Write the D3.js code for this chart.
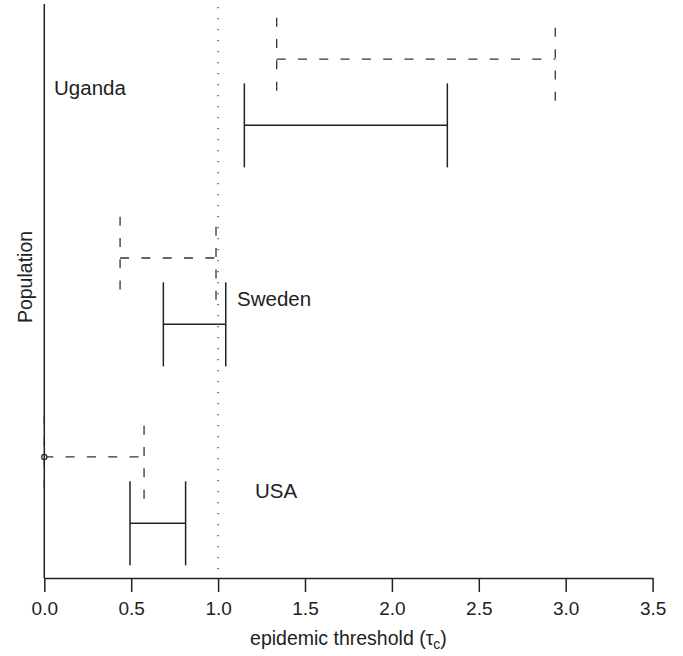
<!DOCTYPE html>
<html>
<head>
<meta charset="utf-8">
<script src="https://cdn.jsdelivr.net/npm/d3@7"></script>
<style>
  body { margin: 0; background: #fff; }
  svg text { font-family: "Liberation Sans", Arial, sans-serif; fill: #222; }
</style>
</head>
<body>
<svg id="chart"></svg>
<script>
// populations, bottom to top
let populations = ['USA', 'Sweden', 'Uganda']
// solid interval (lower, upper) of the epidemic threshold
let solidLow = [0.493, 0.685, 1.151]
let solidHigh = [0.813, 1.044, 2.319]
// dashed interval (lower, upper)
let dashLow = [0.0, 0.436, 1.337]
let dashHigh = [0.574, 0.988, 2.94]
// x ticks
let xTicks = [0, 0.5, 1, 1.5, 2, 2.5, 3, 3.5]
let threshold = 1

let width = 683
let height = 656

let svg = d3.select('#chart')
    .attr('width', width)
    .attr('height', height)

let xScale = d3.scaleLinear()
    .domain([0, 3.5])
    .range([44.3, 652.6])

// each population takes one unit, dashed interval sits a third above the solid one
let yScale = d3.scaleLinear()
    .domain([-0.275, 2.615])
    .range([578, 3])

let half = 42 // half height of the end bars
let dashOffset = 1 / 3

// dotted line at tau = 1
svg.append('line')
    .attr('x1', xScale(threshold))
    .attr('x2', xScale(threshold))
    .attr('y1', 7)
    .attr('y2', 570)
    .attr('stroke', '#333')
    .attr('stroke-width', 1.2)
    .attr('stroke-dasharray', '1.2,9.8')

// dashed intervals
let dashed = svg.append('g')
    .attr('stroke', '#333')
    .attr('stroke-width', 1.3)
    .attr('fill', 'none')
    .attr('stroke-dasharray', '9,12.3')

populations.forEach((p, i) => {
    let y = yScale(i + dashOffset)
    let x1 = xScale(dashLow[i])
    let x2 = xScale(dashHigh[i])
    dashed.append('line')
        .attr('x1', x1).attr('x2', x2)
        .attr('y1', y).attr('y2', y)
    // left bar top -> bottom
    dashed.append('line')
        .attr('x1', x1).attr('x2', x1)
        .attr('y1', y - half + 0.7).attr('y2', y + half)
    // right bar bottom -> top
    dashed.append('line')
        .attr('x1', x2).attr('x2', x2)
        .attr('y1', y + half - 0.3).attr('y2', y - half)
})

// solid intervals
let solid = svg.append('g')
    .attr('stroke', '#222')
    .attr('stroke-width', 1.5)
    .attr('fill', 'none')

populations.forEach((p, i) => {
    let y = yScale(i)
    let x1 = xScale(solidLow[i])
    let x2 = xScale(solidHigh[i])
    solid.append('line')
        .attr('x1', x1).attr('x2', x2)
        .attr('y1', y).attr('y2', y)
    solid.append('line')
        .attr('x1', x1).attr('x2', x1)
        .attr('y1', y - half).attr('y2', y + half)
    solid.append('line')
        .attr('x1', x2).attr('x2', x2)
        .attr('y1', y - half).attr('y2', y + half)
})

// open circle where the USA dashed interval hits zero
svg.append('circle')
    .attr('cx', xScale(dashLow[0]))
    .attr('cy', yScale(0 + dashOffset))
    .attr('r', 2.6)
    .attr('fill', '#fff')
    .attr('stroke', '#222')
    .attr('stroke-width', 1.2)

// left axis line, no ticks
svg.append('line')
    .attr('x1', xScale(0)).attr('x2', xScale(0))
    .attr('y1', 4).attr('y2', 578)
    .attr('stroke', '#222')
    .attr('stroke-width', 1.5)

// bottom axis
let xAxis = d3.axisBottom(xScale)
    .tickValues(xTicks)
    .tickFormat(d3.format('.1f'))
    .tickSizeInner(14)
    .tickSizeOuter(0)
    .tickPadding(10)

let gx = svg.append('g')
    .attr('transform', 'translate(0,578)')
    .call(xAxis)
gx.select('.domain').attr('stroke', '#222').attr('stroke-width', 1.5)
gx.selectAll('.tick line').attr('stroke', '#222').attr('stroke-width', 1.5)
gx.selectAll('.tick text')
    .attr('font-size', 19)
    .attr('fill', '#222')
    .style('font-family', '"Liberation Sans", Arial, sans-serif')

// population labels (data units: x, y of baseline)
let labelX = [1.212, 1.109, 0.056]
let labelY = [0.129, 1.092, 2.152]
svg.selectAll('.plabel')
    .data(populations)
    .enter()
    .append('text')
    .attr('class', 'plabel')
    .attr('x', (d, i) => xScale(labelX[i]))
    .attr('y', (d, i) => yScale(labelY[i]))
    .attr('font-size', 20.5)
    .text(d => d)

// axis titles
let xt = svg.append('text')
    .attr('x', (xScale(0) + xScale(3.5)) / 2)
    .attr('y', 645)
    .attr('text-anchor', 'middle')
    .attr('font-size', 19.5)
xt.append('tspan').text('epidemic threshold (\u03c4')
xt.append('tspan').attr('dy', 4).attr('font-size', 14).text('c')
xt.append('tspan').attr('dy', -4).text(')')

svg.append('text')
    .attr('transform', 'translate(32,277) rotate(-90)')
    .attr('text-anchor', 'middle')
    .attr('font-size', 19.5)
    .text('Population')
</script>
</body>
</html>
